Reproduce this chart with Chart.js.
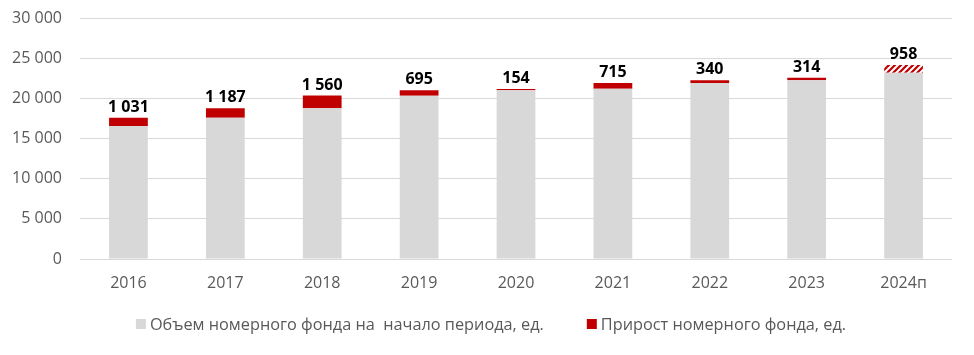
<!DOCTYPE html>
<html>
<head>
<meta charset="utf-8">
<script src="https://cdn.jsdelivr.net/npm/chart.js@4/dist/chart.umd.min.js"></script>
<style>
html,body{margin:0;padding:0;background:#fff;}
#wrap{width:974px;height:355px;position:relative;}
</style>
</head>
<body>
<div id="wrap"><canvas id="c" width="974" height="355"></canvas></div>
<script>
const categories = ['2016','2017','2018','2019','2020','2021','2022','2023','2024п'];
const baseValues = [16550, 17580, 18780, 20320, 21000, 21180, 21920, 22250, 23190];
const growthValues = [1031, 1187, 1560, 695, 154, 715, 340, 314, 958];
const yTicks = [0, 5000, 10000, 15000, 20000, 25000, 30000];
const seriesNames = ['Объем номерного фонда на  начало периода, ед.', 'Прирост номерного фонда, ед.'];
const forecastIndex = 8;

const fmt = v => String(v).replace(/\B(?=(\d{3})+(?!\d))/g, ' ');

// hatch pattern for forecast
function makeHatch(){
  const p = document.createElement('canvas');
  p.width = 6; p.height = 6;
  const g = p.getContext('2d');
  g.fillStyle = '#ffffff'; g.fillRect(0,0,6,6);
  g.strokeStyle = '#c00000'; g.lineWidth = 2.2;
  g.beginPath();
  g.moveTo(-1,7); g.lineTo(7,-1);
  g.moveTo(-4,4); g.lineTo(4,-4);
  g.moveTo(2,10); g.lineTo(10,2);
  g.stroke();
  return document.getElementById('c').getContext('2d').createPattern(p,'repeat');
}
const hatch = makeHatch();
const red = '#c00000';
const gray = '#d8d8d8';
const growthColors = growthValues.map((v,i)=> i===forecastIndex ? hatch : red);

const labelsPlugin = {
  id:'topLabels',
  afterDatasetsDraw(chart){
    const ctx = chart.ctx;
    const meta = chart.getDatasetMeta(1);
    ctx.save();
    ctx.font = 'bold 16px "Open Sans", sans-serif';
    ctx.fillStyle = '#000';
    ctx.textAlign = 'center';
    ctx.textBaseline = 'alphabetic';
    meta.data.forEach((bar,i)=>{
      ctx.fillText(fmt(growthValues[i]), bar.x, bar.y - 6);
    });
    ctx.restore();
  }
};

const legendPlugin = {
  id:'customLegend',
  afterDraw(chart){
    const ctx = chart.ctx;
    ctx.save();
    ctx.font = '16.3px "Open Sans", sans-serif';
    const box = 10, gapBox = 4, gapItem = 43;
    const widths = seriesNames.map(n=>ctx.measureText(n).width);
    const total = widths.reduce((a,w)=>a+box+gapBox+w,0) + gapItem;
    let x = chart.width/2 + 4 - total/2;
    const yc = 324;
    const colors = [gray, red];
    ctx.textBaseline = 'middle';
    ctx.textAlign = 'left';
    seriesNames.forEach((n,i)=>{
      ctx.fillStyle = colors[i];
      ctx.fillRect(x, yc-5, box, box);
      x += box + gapBox;
      ctx.fillStyle = '#595959';
      ctx.fillText(n, x, yc+1);
      x += widths[i] + gapItem;
    });
    ctx.restore();
  }
};

new Chart(document.getElementById('c'), {
  type:'bar',
  data:{
    labels: categories,
    datasets:[
      {label: seriesNames[0], data: baseValues, backgroundColor: gray, stack:'s', barPercentage:0.4, categoryPercentage:1},
      {label: seriesNames[1], data: growthValues, backgroundColor: growthColors, stack:'s', barPercentage:0.4, categoryPercentage:1}
    ]
  },
  options:{
    responsive:false,
    animation:false,
    layout:{padding:{top:18, right:22, bottom:55, left:0}},
    plugins:{legend:{display:false}, tooltip:{enabled:false}},
    scales:{
      x:{
        stacked:true,
        grid:{display:false, drawTicks:false},
        border:{display:false},
        ticks:{color:'#595959', font:{family:'"Open Sans", sans-serif', size:16}, padding:15},
        afterFit(s){ s.height = 41; s.paddingLeft = 0; s.paddingRight = 0; }
      },
      y:{
        stacked:true,
        min:0, max:30000,
        afterBuildTicks(s){ s.ticks = yTicks.map(v=>({value:v})); },
        grid:{color:'#d9d9d9', lineWidth:1, drawTicks:false},
        border:{display:false},
        ticks:{color:'#595959', font:{family:'"Open Sans", sans-serif', size:16}, padding:18, callback:v=>fmt(v)},
        afterFit(s){ s.width = 80; s.paddingTop = 0; s.paddingBottom = 0; }
      }
    }
  },
  plugins:[labelsPlugin, legendPlugin]
});
</script>
</body>
</html>
